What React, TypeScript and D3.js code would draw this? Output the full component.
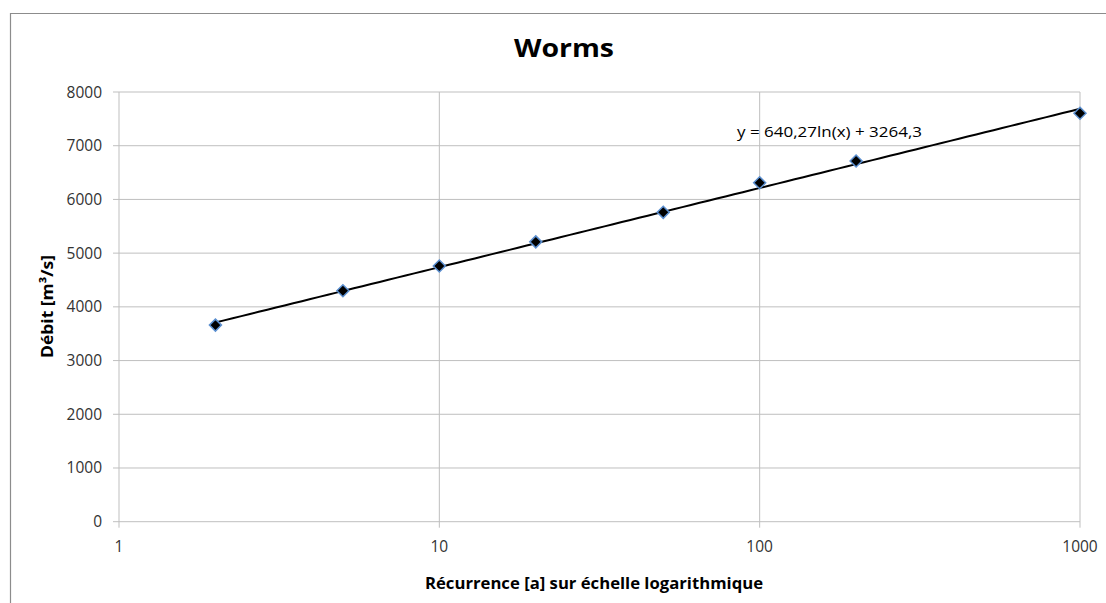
import React from "react";
import * as d3 from "d3";

const recurrence = [2, 5, 10, 20, 50, 100, 200, 1000];
const debit = [3660, 4300, 4760, 5210, 5760, 6310, 6715, 7605];
const yTicks = [0, 1000, 2000, 3000, 4000, 5000, 6000, 7000, 8000];
const xTicks = [1, 10, 100, 1000];
const trendA = 640.27;
const trendB = 3264.3;
const equationLabel = "y = 640,27ln(x) + 3264,3";

const W = 1106, H = 603;
const L = 119, R = 1080, T = 92, B = 521.7;
const FONT = "'Open Sans', 'Noto Sans', sans-serif";

export default function App() {
  const x = d3.scaleLog().domain([1, 1000]).range([L, R]);
  const y = d3.scaleLinear().domain([0, 8000]).range([B, T]);
  const trendX = d3.range(0, 101).map((i) => 2 * Math.pow(500, i / 100));
  const trendLine = d3
    .line<number>()
    .x((d) => x(d))
    .y((d) => y(trendA * Math.log(d) + trendB));
  const grid = "#bfbfbf";
  return (
    <svg
      width={W}
      height={H}
      style={{ position: "absolute", left: 0, top: 0, background: "#fff" }}
      fontFamily={FONT}
    >
      <rect x={0} y={0} width={W} height={H} fill="#fff" />
      <path d={`M10.5,${H} V13.5 H${W}`} fill="none" stroke="#8c8c8c" strokeWidth={1.2} />
      <text x={564} y={57} textAnchor="middle" fontSize={25} fontWeight="bold" fill="#000"
        textLength={100} lengthAdjust="spacingAndGlyphs">
        Worms
      </text>
      {yTicks.map((t) => (
        <g key={"y" + t}>
          <line x1={L - 6} x2={R} y1={y(t)} y2={y(t)} stroke={grid} strokeWidth={1} />
          <text x={102} y={y(t) + 5.5} textAnchor="end" fontSize={15.5} fill="#333">
            {t}
          </text>
        </g>
      ))}
      {xTicks.map((t) => (
        <g key={"x" + t}>
          <line x1={x(t)} x2={x(t)} y1={T} y2={B + 6} stroke={grid} strokeWidth={1} />
          <text x={x(t)} y={551.5} textAnchor="middle" fontSize={15.5} fill="#333">
            {t}
          </text>
        </g>
      ))}
      <path d={trendLine(trendX) || ""} fill="none" stroke="#000" strokeWidth={2} />
      {recurrence.map((r, i) => {
        const cx = x(r), cy = y(debit[i]);
        const s = 6;
        return (
          <path
            key={"p" + i}
            d={`M${cx},${cy - s} L${cx + s},${cy} L${cx},${cy + s} L${cx - s},${cy} Z`}
            fill="#000"
            stroke="#5b8fd0"
            strokeWidth={1.5}
          />
        );
      })}
      <text x={737} y={137} fontSize={14.5} fill="#000" textLength={185} lengthAdjust="spacingAndGlyphs">
        {equationLabel}
      </text>
      <text x={594} y={589} textAnchor="middle" fontSize={16.5} fontWeight="bold" fill="#000"
        textLength={338} lengthAdjust="spacingAndGlyphs">
        Récurrence [a] sur échelle logarithmique
      </text>
      <text
        transform="translate(53,306.5) rotate(-90)"
        textAnchor="middle"
        fontSize={16.5}
        fontWeight="bold"
        fill="#000"
        textLength={103}
        lengthAdjust="spacingAndGlyphs"
      >
        Débit [m³/s]
      </text>
    </svg>
  );
}
